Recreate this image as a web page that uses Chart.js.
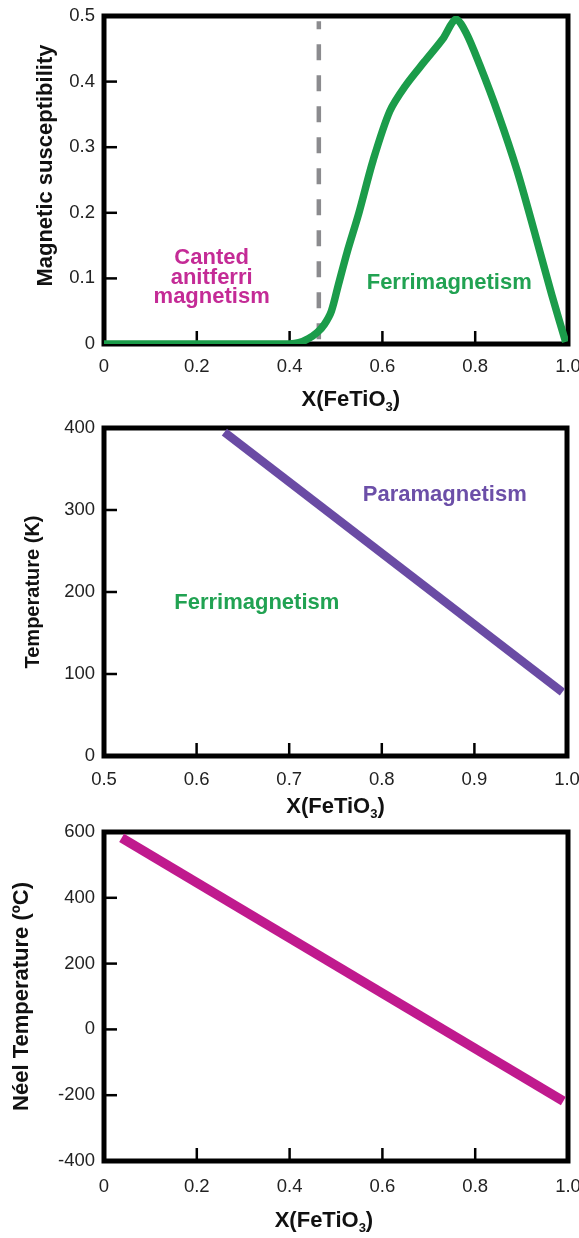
<!DOCTYPE html>
<html>
<head>
<meta charset="utf-8">
<script src="https://cdn.jsdelivr.net/npm/chart.js@4.4.1/dist/chart.umd.min.js"></script>
<style>
  html, body { margin: 0; padding: 0; background: #fff; }
  body { width: 579px; height: 1238px; position: relative; overflow: hidden; }
  canvas { position: absolute; left: 0; }
</style>
</head>
<body>
<canvas id="chart1" width="579" height="412" style="top:0px"></canvas>
<canvas id="chart2" width="579" height="412" style="top:412px"></canvas>
<canvas id="chart3" width="579" height="422" style="top:816px"></canvas>
<script>
// ---- data ----
// panel 1: magnetic susceptibility vs X(FeTiO3)
const suscX = [0, 0.1, 0.2, 0.3, 0.4, 0.42, 0.44, 0.46, 0.475, 0.49, 0.505, 0.524, 0.549, 0.58, 0.616, 0.65, 0.69, 0.73, 0.758, 0.78, 0.81, 0.85, 0.89, 0.93, 0.965, 0.995];
const suscY = [0, 0, 0, 0, 0, 0.002, 0.008, 0.018, 0.03, 0.05, 0.09, 0.14, 0.199, 0.28, 0.355, 0.394, 0.43, 0.465, 0.495, 0.475, 0.425, 0.35, 0.265, 0.165, 0.075, 0.003];
const boundaryX = [0.463, 0.463];
const boundaryY = [0.492, 0];

// panel 2: transition temperature (K)
const tempX = [0.63, 0.995];
const tempY = [395, 78];

// panel 3: Neel temperature (C)
const neelX = [0.038, 0.99];
const neelY = [582, -218];

// tick values / labels
const x1Ticks = [0, 0.2, 0.4, 0.6, 0.8, 1.0];
const x1Labels = ['0', '0.2', '0.4', '0.6', '0.8', '1.0'];
const y1Ticks = [0, 0.1, 0.2, 0.3, 0.4, 0.5];
const y1Labels = ['0', '0.1', '0.2', '0.3', '0.4', '0.5'];
const x2Ticks = [0.5, 0.6, 0.7, 0.8, 0.9, 1.0];
const x2Labels = ['0.5', '0.6', '0.7', '0.8', '0.9', '1.0'];
const y2Ticks = [0, 100, 200, 300, 400];
const y2Labels = ['0', '100', '200', '300', '400'];
const x3Ticks = [0, 0.2, 0.4, 0.6, 0.8, 1.0];
const x3Labels = ['0', '0.2', '0.4', '0.6', '0.8', '1.0'];
const y3Ticks = [-400, -200, 0, 200, 400, 600];
const y3Labels = ['-400', '-200', '0', '200', '400', '600'];

const FONT = '"Liberation Sans", Arial, Helvetica, sans-serif';
const GREEN = '#1b9c4a';
const PURPLE = '#6a4ba4';
const MAGENTA = '#c01a8e';

const pts = (xs, ys) => xs.map((x, i) => ({ x: x, y: ys[i] }));

// box + inward tick marks + text labels + axis titles
const framePlugin = {
    id: 'frame',
    beforeDatasetsDraw(chart, args, opts) {
        const { ctx, chartArea: a, scales: { x, y } } = chart;
        ctx.save();
        ctx.strokeStyle = '#000';
        ctx.lineWidth = 2.5;
        opts.innerX.forEach(v => {
            const px = x.getPixelForValue(v);
            ctx.beginPath();
            ctx.moveTo(px, a.bottom);
            ctx.lineTo(px, a.bottom - 13);
            ctx.stroke();
        });
        opts.innerY.forEach(v => {
            const py = y.getPixelForValue(v);
            ctx.beginPath();
            ctx.moveTo(a.left, py);
            ctx.lineTo(a.left + 13, py);
            ctx.stroke();
        });
        ctx.lineWidth = 5;
        ctx.strokeRect(a.left, a.top, a.right - a.left, a.bottom - a.top);
        ctx.restore();
    },
    afterDatasetsDraw(chart, args, opts) {
        const { ctx, chartArea: a, scales: { x, y } } = chart;
        ctx.save();
        ctx.textAlign = 'center';
        ctx.textBaseline = 'middle';
        ctx.font = 'bold 22px ' + FONT;
        (opts.notes || []).forEach(n => {
            ctx.fillStyle = n.color;
            const px = x.getPixelForValue(n.x);
            const py = y.getPixelForValue(n.y);
            n.lines.forEach((t, i) => ctx.fillText(t, px, py + i * 19.5));
        });

        // y axis title, rotated
        ctx.fillStyle = '#111';
        ctx.font = 'bold ' + opts.yTitleSize + 'px ' + FONT;
        ctx.save();
        ctx.translate(opts.yTitleLeft, y.getPixelForValue(opts.yTitleAt));
        ctx.rotate(-Math.PI / 2);
        ctx.fillText(opts.yTitle, 0, 0);
        ctx.restore();

        // x axis title: X(FeTiO3) with a real subscript
        const cx = x.getPixelForValue(opts.titleX);
        const base = a.bottom + opts.titleDrop;
        ctx.textAlign = 'left';
        ctx.textBaseline = 'alphabetic';
        ctx.font = 'bold 22px ' + FONT;
        const w1 = ctx.measureText('X(FeTiO').width;
        const w3 = ctx.measureText(')').width;
        ctx.font = 'bold 13px ' + FONT;
        const w2 = ctx.measureText('3').width;
        const left = cx - (w1 + w2 + w3) / 2;
        ctx.font = 'bold 22px ' + FONT;
        ctx.fillText('X(FeTiO', left, base);
        ctx.font = 'bold 13px ' + FONT;
        ctx.fillText('3', left + w1, base + 5);
        ctx.font = 'bold 22px ' + FONT;
        ctx.fillText(')', left + w1 + w2, base);
        ctx.restore();
    }
};

function makeScales(xMin, xMax, xTicks, xLabels, xPad, xHeight, yMin, yMax, yTicks, yLabels) {
    return {
        x: {
            type: 'linear',
            min: xMin,
            max: xMax,
            afterBuildTicks: s => { s.ticks = xTicks.map(v => ({ value: v })); },
            afterFit: s => { s.height = xHeight; s.paddingLeft = 0; s.paddingRight = 0; },
            grid: { display: false, drawTicks: false },
            border: { display: false },
            ticks: {
                padding: xPad,
                color: '#222',
                font: { family: FONT, size: 18.5 },
                maxRotation: 0,
                autoSkip: false,
                callback: (v, i) => xLabels[i]
            }
        },
        y: {
            type: 'linear',
            min: yMin,
            max: yMax,
            afterBuildTicks: s => { s.ticks = yTicks.map(v => ({ value: v })); },
            afterFit: s => { s.width = 104; s.paddingTop = 0; s.paddingBottom = 0; },
            grid: { display: false, drawTicks: false },
            border: { display: false },
            ticks: {
                padding: 9,
                color: '#222',
                font: { family: FONT, size: 18.5 },
                autoSkip: false,
                callback: (v, i) => yLabels[i]
            }
        }
    };
}

const common = {
    responsive: false,
    animation: false,
    events: [],
    plugins: { legend: { display: false }, tooltip: { enabled: false } },
    elements: { point: { radius: 0 } }
};

// ---- panel 1 ----
new Chart(document.getElementById('chart1'), {
    type: 'line',
    data: {
        datasets: [
            {
                data: pts(suscX, suscY),
                borderColor: GREEN,
                borderWidth: 7.5,
                tension: 0.3,
                fill: false
            },
            {
                data: pts(boundaryX, boundaryY),
                borderColor: '#8b8b8e',
                borderWidth: 4.5,
                borderDash: [16, 15],
                borderDashOffset: 8,
                fill: false
            }
        ]
    },
    options: Object.assign({}, common, {
        layout: { padding: { top: 16, right: 11, left: 0, bottom: 0 } },
        scales: makeScales(0, 1, x1Ticks, x1Labels, 12, 68, 0, 0.5, y1Ticks, y1Labels),
        plugins: Object.assign({}, common.plugins, {
            frame: {
                innerX: [0.2, 0.4, 0.6, 0.8],
                innerY: [0.1, 0.2, 0.3, 0.4],
                yTitle: 'Magnetic susceptibility',
                yTitleSize: 22,
                yTitleLeft: 46,
                yTitleAt: 0.272,
                titleX: 0.532,
                titleDrop: 62,
                notes: [
                    { lines: ['Canted', 'anitferri', 'magnetism'], x: 0.232, y: 0.131, color: '#c42b96' },
                    { lines: ['Ferrimagnetism'], x: 0.744, y: 0.093, color: '#21a252' }
                ]
            }
        })
    }),
    plugins: [framePlugin]
});

// ---- panel 2 ----
new Chart(document.getElementById('chart2'), {
    type: 'line',
    data: {
        datasets: [{
            data: pts(tempX, tempY),
            borderColor: PURPLE,
            borderWidth: 8.5,
            fill: false
        }]
    },
    options: Object.assign({}, common, {
        layout: { padding: { top: 16, right: 12, left: 0, bottom: 0 } },
        scales: makeScales(0.5, 1.0, x2Ticks, x2Labels, 13, 68, 0, 400, y2Ticks, y2Labels),
        plugins: Object.assign({}, common.plugins, {
            frame: {
                innerX: [0.6, 0.7, 0.8, 0.9],
                innerY: [100, 200, 300],
                yTitle: 'Temperature (K)',
                yTitleSize: 20,
                yTitleLeft: 33,
                yTitleAt: 200,
                titleX: 0.75,
                titleDrop: 57,
                notes: [
                    { lines: ['Paramagnetism'], x: 0.868, y: 318, color: '#6c4fa8' },
                    { lines: ['Ferrimagnetism'], x: 0.665, y: 187, color: '#21a252' }
                ]
            }
        })
    }),
    plugins: [framePlugin]
});

// ---- panel 3 ----
new Chart(document.getElementById('chart3'), {
    type: 'line',
    data: {
        datasets: [{
            data: pts(neelX, neelY),
            borderColor: MAGENTA,
            borderWidth: 9.5,
            fill: false
        }]
    },
    options: Object.assign({}, common, {
        layout: { padding: { top: 16, right: 11, left: 0, bottom: 0 } },
        scales: makeScales(0, 1, x3Ticks, x3Labels, 15, 77, -400, 600, y3Ticks, y3Labels),
        plugins: Object.assign({}, common.plugins, {
            frame: {
                innerX: [0.2, 0.4, 0.6, 0.8],
                innerY: [-200, 0, 200, 400],
                yTitle: 'Néel Temperature (ºC)',
                yTitleSize: 22,
                yTitleLeft: 22,
                yTitleAt: 100,
                titleX: 0.474,
                titleDrop: 66,
                notes: []
            }
        })
    }),
    plugins: [framePlugin]
});
</script>
</body>
</html>
